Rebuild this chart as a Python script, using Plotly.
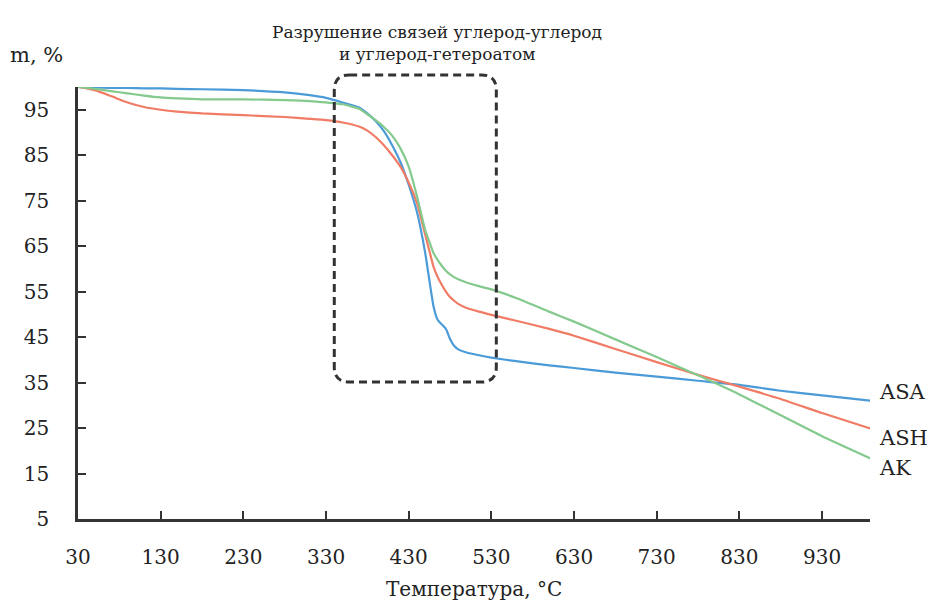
import plotly.graph_objects as go

# Temperature, °C
temps = [30, 50, 70, 90, 110, 130, 150, 180, 230, 280,
         310, 330, 350, 370, 380, 390, 400, 410, 420, 430,
         440, 450, 455, 460, 465, 470, 475, 480, 485, 490,
         500, 515, 530, 560, 600, 630, 680, 730, 780, 830,
         880, 930, 990]

# Mass, %
asa = [100.0, 99.9, 99.8, 99.8, 99.7, 99.7, 99.6, 99.5, 99.3, 98.8,
       98.2, 97.6, 96.6, 95.5, 94.2, 92.5, 90.3, 87.2, 83.5, 78.5,
       72.5, 63.5, 57.5, 51.8, 48.8, 47.8, 46.8, 44.6, 43.1, 42.3,
       41.6, 41.0, 40.5, 39.7, 38.8, 38.2, 37.2, 36.3, 35.4, 34.5,
       33.2, 32.2, 31.0]
ash = [100.0, 99.3, 98.0, 96.6, 95.6, 95.0, 94.6, 94.2, 93.8, 93.4,
       93.0, 92.7, 92.2, 91.3, 90.4, 89.0, 87.2, 85.0, 82.5, 79.0,
       74.5, 67.5, 64.0, 60.5, 58.2, 56.5, 55.0, 53.8, 53.0, 52.3,
       51.4, 50.6, 49.9, 48.6, 46.8, 45.3, 42.4, 39.5, 36.7, 34.1,
       31.4, 28.3, 24.8]
ak = [100.0, 99.6, 99.1, 98.6, 98.1, 97.7, 97.5, 97.3, 97.3, 97.1,
      96.9, 96.6, 96.2, 95.2, 94.0, 92.7, 91.2, 89.3, 86.5, 82.5,
      76.0, 68.5, 66.0, 63.5, 62.0, 60.7, 59.6, 58.8, 58.2, 57.7,
      57.0, 56.2, 55.5, 53.6, 50.6, 48.4, 44.5, 40.6, 36.6, 32.4,
      27.8, 23.2, 18.2]

series_names = ["ASA", "ASH", "AK"]
series_colors = ["#4A9BD8", "#F07C65", "#84C98D"]
label_y = [33.0, 22.8, 16.2]

x_ticks = [30, 130, 230, 330, 430, 530, 630, 730, 830, 930]
y_ticks = [5, 15, 25, 35, 45, 55, 65, 75, 85, 95]

title_lines = ["Разрушение связей углерод-углерод", "и углерод-гетероатом"]

# highlighted region (dashed rounded box)
box_x0, box_x1 = 340, 536
box_y0, box_y1 = 0.317, 1.028  # paper fraction
box_rx, box_ry = 18, 0.035

FONT = "DejaVu Serif"
AX = "#333333"
TXT = "#222222"
PLOT_L, PLOT_R, PLOT_T, PLOT_B = 78, 870, 87, 519
PW, PH = PLOT_R - PLOT_L, PLOT_B - PLOT_T


def px_x(px):
    return (px - PLOT_L) / PW


def px_y(py):
    return (PLOT_B - py) / PH


fig = go.Figure()
for name, vals, col in zip(series_names, [asa, ash, ak], series_colors):
    fig.add_trace(go.Scatter(x=temps, y=vals, mode="lines", name=name,
                             line=dict(color=col, width=2.2, shape="spline", smoothing=0.5),
                             showlegend=False))

for name, ly in zip(series_names, label_y):
    fig.add_annotation(x=px_x(877), y=ly, xref="paper", yref="y", text=name, showarrow=False,
                       xanchor="left", yanchor="middle",
                       font=dict(family=FONT, size=21, color=TXT))

p = (f"M {box_x0 + box_rx},{box_y1} L {box_x1 - box_rx},{box_y1} "
     f"Q {box_x1},{box_y1} {box_x1},{box_y1 - box_ry} "
     f"L {box_x1},{box_y0 + box_ry} Q {box_x1},{box_y0} {box_x1 - box_rx},{box_y0} "
     f"L {box_x0 + box_rx},{box_y0} Q {box_x0},{box_y0} {box_x0},{box_y0 + box_ry} "
     f"L {box_x0},{box_y1 - box_ry} Q {box_x0},{box_y1} {box_x0 + box_rx},{box_y1} Z")
fig.add_shape(type="path", path=p, xref="x", yref="paper",
              line=dict(color="#333333", width=3, dash="8px,5px"))

for line, ty in zip(title_lines, [32, 54]):
    fig.add_annotation(text=line, xref="paper", yref="paper", x=px_x(437), y=px_y(ty),
                       xanchor="center", yanchor="middle", showarrow=False,
                       font=dict(family=FONT, size=17, color=TXT))

fig.add_annotation(text="m, %", xref="paper", yref="paper", x=px_x(8), y=px_y(55),
                   xanchor="left", yanchor="middle", showarrow=False,
                   font=dict(family=FONT, size=21, color=TXT))
fig.add_annotation(text="Температура, °C", xref="paper", yref="paper", x=0.5, y=px_y(589),
                   xanchor="center", yanchor="middle", showarrow=False,
                   font=dict(family=FONT, size=20, color=TXT))

fig.update_xaxes(range=[30, 988], tickvals=x_ticks, ticks="inside", ticklen=8, tickwidth=2,
                 tickcolor=AX, showline=True, linecolor=AX, linewidth=2.5, showgrid=False,
                 zeroline=False, ticklabelstandoff=18,
                 tickfont=dict(family=FONT, size=20, color=TXT))
fig.update_yaxes(range=[5, 100], tickvals=y_ticks, ticks="inside", ticklen=8, tickwidth=2,
                 tickcolor=AX, showline=True, linecolor=AX, linewidth=2.5, showgrid=False,
                 zeroline=False, ticklabelstandoff=22,
                 tickfont=dict(family=FONT, size=20, color=TXT))

fig.update_layout(width=935, height=602, margin=dict(l=PLOT_L, r=935 - PLOT_R, t=PLOT_T, b=602 - PLOT_B),
                  paper_bgcolor="white", plot_bgcolor="white")

fig.write_html("out.html")
